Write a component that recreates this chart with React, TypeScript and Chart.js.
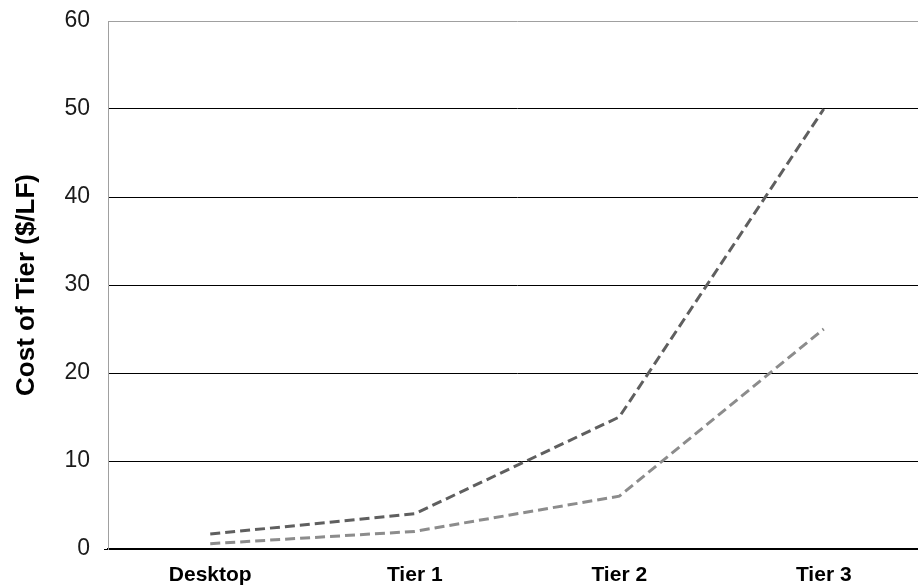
import React, { useEffect, useRef } from "react";
import { Chart, registerables } from "chart.js";

Chart.register(...registerables);

const categories = ["Desktop", "Tier 1", "Tier 2", "Tier 3"];
const seriesHigh = [1.7, 4.0, 15.0, 50.0];
const seriesLow = [0.6, 2.0, 6.0, 25.0];
const yTicks = [0, 10, 20, 30, 40, 50, 60];
const yTitle = "Cost of Tier ($/LF)";

export default function App() {
  const ref = useRef<HTMLCanvasElement | null>(null);
  useEffect(() => {
    const chart = new Chart(ref.current!, {
      type: "line",
      data: {
        labels: categories,
        datasets: [
          {
            data: seriesHigh,
            borderColor: "#5f5f5f",
            borderWidth: 3,
            borderDash: [10, 5],
            pointRadius: 0,
            fill: false,
            tension: 0,
          },
          {
            data: seriesLow,
            borderColor: "#8c8c8c",
            borderWidth: 3,
            borderDash: [10, 5],
            pointRadius: 0,
            fill: false,
            tension: 0,
          },
        ],
      },
      options: {
        animation: false,
        responsive: false,
        layout: { padding: { top: 21, right: 4, left: 0, bottom: 0 } },
        plugins: { legend: { display: false }, tooltip: { enabled: false } },
        scales: {
          x: {
            offset: true,
            grid: { display: false, drawTicks: false },
            border: { display: true, color: "#000000", width: 2 },
            ticks: {
              color: "#000000",
              padding: 14,
              maxRotation: 0,
              font: { family: "Liberation Sans, Arial", size: 21, weight: "bold" },
            },
            afterFit: (s: any) => {
              s.height = 37;
              s.paddingLeft = 0;
              s.paddingRight = 0;
            },
          },
          y: {
            min: 0,
            max: 60,
            afterBuildTicks: (s: any) => {
              s.ticks = yTicks.map((v) => ({ value: v }));
            },
            grid: {
              color: (ctx: any) => (ctx.tick && ctx.tick.value === 60 ? "#a0a0a0" : "#000000"),
              lineWidth: 1,
              tickLength: 4,
              tickColor: (ctx: any) => (ctx.tick && ctx.tick.value === 0 ? "#000000" : "rgba(0,0,0,0)"),
            },
            border: { display: true, color: "#a0a0a0", width: 1 },
            ticks: {
              color: "#1a1a1a",
              padding: 14,
              font: { family: "Liberation Sans, Arial", size: 23 },
            },
            title: {
              display: true,
              text: yTitle,
              color: "#000000",
              padding: { top: 11, bottom: 0 },
              font: { family: "Liberation Sans, Arial", size: 26, weight: "bold" },
            },
            afterFit: (s: any) => {
              s.width = 108;
              s.paddingTop = 0;
              s.paddingBottom = 0;
            },
          },
        },
      },
    });
    return () => chart.destroy();
  }, []);
  return (
    <div style={{ position: "absolute", left: 0, top: 0, width: 918, height: 586, overflow: "hidden", background: "#fff" }}>
      <canvas ref={ref} width={930} height={586} style={{ width: 930, height: 586, display: "block" }} />
    </div>
  );
}
